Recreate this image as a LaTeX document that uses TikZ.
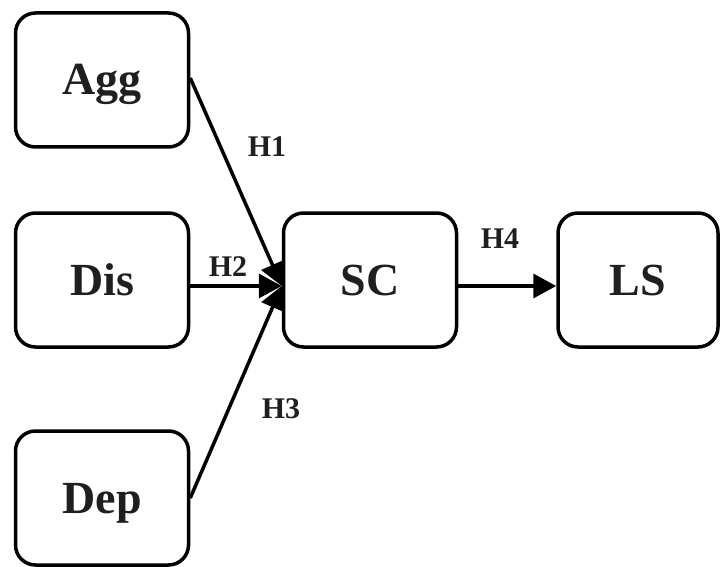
\documentclass[tikz,border=0pt]{standalone}
\usepackage{fontspec}
\setmainfont{Liberation Serif}
\usetikzlibrary{arrows.meta}
\begin{document}
\begin{tikzpicture}[x=1pt,y=-1pt,
  box/.style={draw=black, line width=3.5pt, rounded corners=20pt,
    minimum width=173pt, minimum height=134pt, inner sep=0pt,
    text height=30pt, text depth=0pt,
    font=\bfseries\fontsize{46}{50}\selectfont, text=black!88},
  hlabel/.style={font=\bfseries\fontsize{30}{34}\selectfont, text=black!88,
    inner sep=0pt, text height=20pt, text depth=0pt},
  link/.style={line width=3.5pt, -{Triangle[length=23pt,width=24pt]}}]
  \useasboundingbox (0,0) rectangle (720,567);
  % construct boxes
  \node[box] (agg) at (102,80) {Agg};
  \node[box] (dis) at (102,280) {Dis};
  \node[box] (dep) at (102,498) {Dep};
  \node[box] (sc) at (370,280) {SC};
  \node[box, minimum width=160pt] (ls) at (638,280) {LS};
  % attachment points, a little below the box middles
  \coordinate (disout) at ([yshift=-6pt]dis.east);
  \coordinate (scin) at ([yshift=-6pt]sc.west);
  \coordinate (scout) at ([yshift=-6pt]sc.east);
  \coordinate (lsin) at ([yshift=-6pt]ls.west);
  % hypothesised paths
  \draw[link] ([yshift=2pt]agg.east) -- (scin);
  \draw[link] (disout) -- (scin);
  \draw[link] (dep.east) -- (scin);
  \draw[link] (scout) -- (lsin);
  % path labels
  \node[hlabel] (h1) at (267,147) {H1};
  \node[hlabel] (h2) at (228,266) {H2};
  \node[hlabel] (h3) at (281,408) {H3};
  \node[hlabel] (h4) at (500,238) {H4};
\end{tikzpicture}
\end{document}
